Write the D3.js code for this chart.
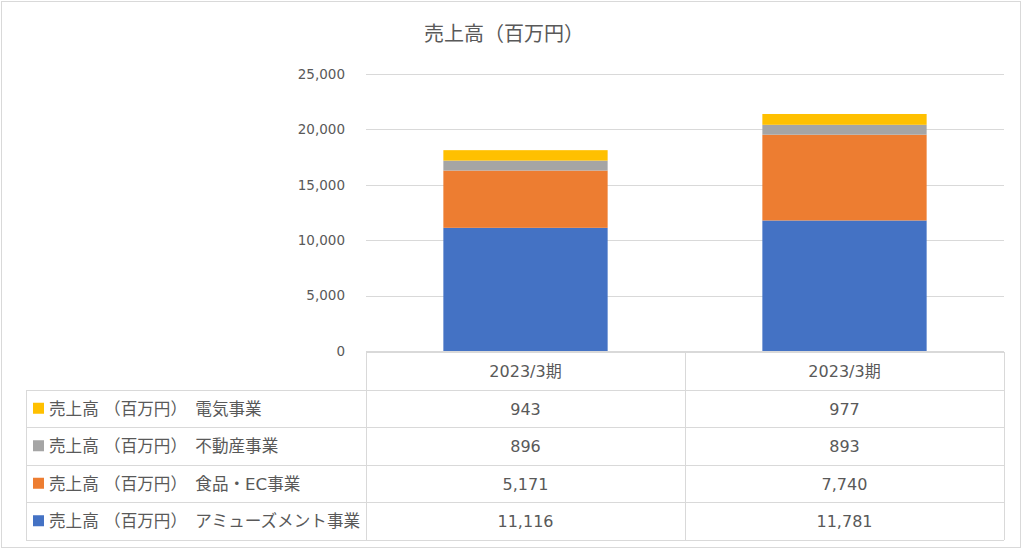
<!DOCTYPE html>
<html><head><meta charset="utf-8">
<script src="https://cdn.jsdelivr.net/npm/d3@7"></script>
<style>
html,body{margin:0;padding:0;background:#fff;}
svg text{font-family:"DejaVu Sans","Noto Sans CJK JP",sans-serif;fill:#595959;}
</style></head>
<body>
<svg id="c" width="1024" height="551"></svg>
<script>
const categories = ["2023/3期", "2023/3期"];
const seriesNames = [
  "売上高 （百万円）　アミューズメント事業",
  "売上高 （百万円）　食品・EC事業",
  "売上高 （百万円）　不動産事業",
  "売上高 （百万円）　電気事業"
];
const amusement = [11116, 11781];
const foodEC = [5171, 7740];
const realEstate = [896, 893];
const electric = [943, 977];
const colors = ["#4472C4", "#ED7D31", "#A5A5A5", "#FFC000"];
const yTicks = [0, 5000, 10000, 15000, 20000, 25000];
const title = "売上高（百万円）";

const series = [amusement, foodEC, realEstate, electric];
const svg = d3.select("#c");
const plotL = 366, plotR = 1004, plotT = 74, plotB = 351;
const tableL = 26, headerTop = 352, rowTop = 390, rowH = 37.5;
const FF = '"DejaVu Sans","Noto Sans CJK JP",sans-serif';

// outer border
svg.append("rect").attr("x",1.5).attr("y",1.5).attr("width",1019).attr("height",546)
  .attr("fill","none").attr("stroke","#d9d9d9").attr("stroke-width",1);

const x = d3.scaleBand().domain(d3.range(categories.length)).range([plotL, plotR]).paddingInner(0.485).paddingOuter(0.2425);
const xCol = d3.scaleBand().domain(d3.range(categories.length)).range([plotL, plotR]);
const y = d3.scaleLinear().domain([0, 25000]).range([plotB, plotT]);

// gridlines + tick labels
const yAxis = d3.axisLeft(y).tickValues(yTicks).tickSize(-(plotR - plotL)).tickFormat(d3.format(","));
const gy = svg.append("g").attr("transform", `translate(${plotL},0)`).call(yAxis);
gy.select(".domain").remove();
gy.selectAll(".tick line").attr("stroke", "#d9d9d9").attr("stroke-width", 1)
  .attr("shape-rendering","crispEdges");
gy.selectAll(".tick text").attr("x", -21).attr("font-size", "13.5px").attr("fill", "#595959")
  .attr("font-family", FF);

// stacked bars
const stackData = categories.map((c, i) => {
  const o = {i};
  series.forEach((s, k) => o["s" + k] = s[i]);
  return o;
});
const stack = d3.stack().keys(series.map((s, k) => "s" + k))(stackData);
svg.append("g").selectAll("g").data(stack).join("g").attr("fill", (d, k) => colors[k])
  .selectAll("rect").data(d => d).join("rect")
  .attr("x", d => x(d.data.i)).attr("width", x.bandwidth())
  .attr("y", d => y(d[1])).attr("height", d => y(d[0]) - y(d[1]));

// title
svg.append("text").attr("x", 504).attr("y", 41).attr("text-anchor", "middle")
  .attr("font-size", "20px").text(title);

// data table
const nRows = series.length;
const tableBottom = rowTop + rowH * nRows;
const lines = svg.append("g").attr("stroke", "#d9d9d9").attr("stroke-width", 1).attr("shape-rendering","crispEdges");
lines.append("line").attr("x1", plotL).attr("x2", plotR).attr("y1", headerTop).attr("y2", headerTop);
for (let r = 0; r <= nRows; r++) {
  const yy = rowTop + rowH * r;
  lines.append("line").attr("x1", tableL).attr("x2", plotR).attr("y1", yy).attr("y2", yy);
}
lines.append("line").attr("x1", tableL).attr("x2", tableL).attr("y1", rowTop).attr("y2", tableBottom);
[plotL, ...categories.map((c, i) => xCol(i) + xCol.bandwidth())].forEach(xx => {
  lines.append("line").attr("x1", xx).attr("x2", xx).attr("y1", headerTop).attr("y2", tableBottom);
});

// header labels
svg.append("g").selectAll("text").data(categories).join("text")
  .attr("x", (d, i) => xCol(i) + xCol.bandwidth() / 2).attr("y", (headerTop + rowTop) / 2 + 6)
  .attr("text-anchor", "middle").attr("font-size", "16px").text(d => d);

// rows: top = electric, bottom = amusement
const order = d3.range(nRows).reverse();
order.forEach((k, r) => {
  const cy = rowTop + rowH * r + rowH / 2;
  svg.append("rect").attr("x", 33).attr("y", cy - 6).attr("width", 11).attr("height", 11).attr("fill", colors[k]);
  svg.append("text").attr("x", 49).attr("y", cy + 6).attr("font-size", "16.6px").text(seriesNames[k]);
  series[k].forEach((v, i) => {
    svg.append("text").attr("x", xCol(i) + xCol.bandwidth() / 2).attr("y", cy + 6)
      .attr("text-anchor", "middle").attr("font-size", "16px").text(d3.format(",")(v));
  });
});
</script>
</body></html>
